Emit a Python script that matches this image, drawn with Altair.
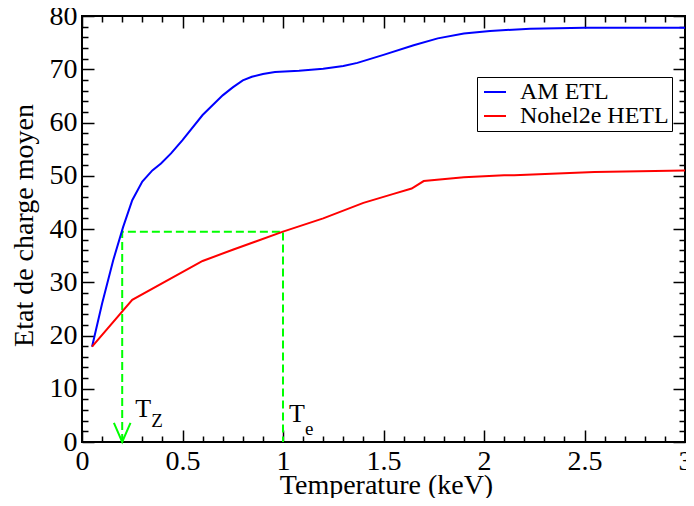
import altair as alt
import pandas as pd

# ---------------- data ----------------
series_names = ["AM ETL", "Nohel2e HETL"]
series_colors = ["#0000ff", "#ff0000"]

temp_am = [0.05, 0.1, 0.155, 0.204, 0.25, 0.3, 0.35, 0.393, 0.443, 0.5, 0.6, 0.7,
           0.75, 0.8, 0.845, 0.9, 0.96, 1.08, 1.2, 1.3, 1.37, 1.5, 1.65, 1.77,
           1.9, 2.03, 2.23, 2.5, 3.0]
charge_am = [17.9, 26.0, 34.1, 40.3, 45.4, 48.9, 51.0, 52.3, 54.2, 56.7, 61.4, 65.1,
             66.6, 67.9, 68.6, 69.1, 69.5, 69.7, 70.1, 70.6, 71.2, 72.7, 74.5, 75.8,
             76.7, 77.2, 77.6, 77.8, 77.8]

temp_noh = [0.05, 0.25, 0.6, 0.75, 1.0, 1.2, 1.4, 1.55, 1.64, 1.70, 1.9, 2.1, 2.15, 2.55, 3.0]
charge_noh = [17.9, 26.7, 34.0, 36.1, 39.5, 42.0, 44.9, 46.6, 47.6, 49.0, 49.7, 50.1, 50.1, 50.7, 51.0]

T_Z = 0.2
T_E = 1.0
charge_ref = 39.5

x_major = [0, 0.5, 1, 1.5, 2, 2.5, 3]
x_minor = [round(i * 0.1, 1) for i in range(31) if i % 5]
y_major = [0, 10, 20, 30, 40, 50, 60, 70, 80]
y_minor = [i for i in range(0, 81, 2) if i % 10]

# ---------------- layout ----------------
W, H = 603, 426
FONT = "Liberation Serif"

df = pd.DataFrame({
    "T": temp_am + temp_noh,
    "Z": charge_am + charge_noh,
    "s": [series_names[0]] * len(temp_am) + [series_names[1]] * len(temp_noh),
})

xs = alt.Scale(domain=[0, 3], nice=False, zero=False)
ys = alt.Scale(domain=[0, 80], nice=False, zero=False)

lines = alt.Chart(df).mark_line(strokeWidth=2).encode(
    x=alt.X("T:Q", scale=xs, axis=alt.Axis(
        orient="bottom", values=x_major, format="~g", ticks=False, tickSize=0,
        domain=False, grid=False, labelFont=FONT, labelFontSize=28, labelColor="black",
        labelPadding=5, labelFlush=False, labelOverlap=False,
        title="Temperature (keV)", titleFont=FONT, titleFontSize=28,
        titleFontWeight="normal", titleColor="black", titleX=304, titleY=51,
        titleBaseline="alphabetic", titleAlign="center")),
    y=alt.Y("Z:Q", scale=ys, axis=alt.Axis(
        orient="left", values=y_major, ticks=False, tickSize=0, domain=False, grid=False,
        labelFont=FONT, labelFontSize=28, labelColor="black", labelPadding=5,
        labelFlush=False, labelOverlap=False,
        title="Etat de charge moyen", titleFont=FONT, titleFontSize=28,
        titleFontWeight="normal", titleColor="black", titleX=-50, titleY=209,
        titleAngle=270, titleBaseline="alphabetic", titleAlign="center")),
    color=alt.Color("s:N", scale=alt.Scale(domain=series_names, range=series_colors),
                    legend=alt.Legend(
                        title=None, orient="none", legendX=395, legendY=61,
                        direction="vertical", symbolType="stroke", symbolSize=484,
                        symbolStrokeWidth=2, labelFont=FONT, labelFontSize=24,
                        labelColor="black", labelOffset=13, labelLimit=400,
                        padding=3, symbolOffset=3, rowPadding=0,
                        strokeColor="black", fillColor="white", cornerRadius=0)),
)


def tick_axes(x_orient, y_orient, size, xv, yv):
    common = dict(labels=False, domain=False, grid=False, ticks=True, tickSize=size,
                  tickWidth=1.5, tickColor="black", title=None)
    return alt.Chart(df).mark_point(opacity=0).encode(
        x=alt.X("T:Q", scale=xs, axis=alt.Axis(orient=x_orient, offset=-H, values=xv, **common)),
        y=alt.Y("Z:Q", scale=ys, axis=alt.Axis(orient=y_orient, offset=-W, values=yv, **common)),
    )


ticks = [
    tick_axes("top", "right", 12, x_major, y_major),
    tick_axes("top", "right", 6, x_minor, y_minor),
    tick_axes("bottom", "left", 12, x_major, y_major),
    tick_axes("bottom", "left", 6, x_minor, y_minor),
]

guide = pd.DataFrame({"T": [T_Z, T_Z, T_E, T_E],
                      "Z": [0, charge_ref, charge_ref, 0],
                      "k": [0, 1, 2, 3]})
dash = alt.Chart(guide).mark_line(color="#00ff00", strokeWidth=2, strokeDash=[8, 4]).encode(
    x=alt.X("T:Q", scale=xs, axis=None),
    y=alt.Y("Z:Q", scale=ys, axis=None),
    order="k:O",
)

arrow = alt.Chart(pd.DataFrame({"T": [T_Z], "Z": [0]})).mark_point(
    shape="M-1,-2.3L0,0L1,-2.3", size=276, filled=False, color="#00ff00",
    strokeWidth=2, opacity=1).encode(
    x=alt.X("T:Q", scale=xs, axis=None),
    y=alt.Y("Z:Q", scale=ys, axis=None),
)


def label(xval, text, size, dx, dy):
    return alt.Chart(pd.DataFrame({"T": [xval], "Z": [0], "t": [text]})).mark_text(
        font=FONT, fontSize=size, align="left", baseline="alphabetic",
        dx=dx, dy=dy, color="black").encode(
        x=alt.X("T:Q", scale=xs, axis=None),
        y=alt.Y("Z:Q", scale=ys, axis=None),
        text="t:N",
    )


labels = [
    label(T_Z, "T", 26, 13, -24.7),
    label(T_Z, "Z", 19, 29, -15),
    label(T_E, "T", 26, 6, -20),
    label(T_E, "e", 19, 22, -6.7),
]

chart = alt.layer(*ticks, dash, lines, arrow, *labels).resolve_axis(
    x="independent", y="independent"
).properties(
    width=W, height=H,
    autosize=alt.AutoSizeParams(type="none"),
    padding={"left": 74, "top": 8, "right": 1, "bottom": 56},
    background="white",
).configure_view(stroke="black", strokeWidth=2)

chart.save("out.html", embed_options={"renderer": "svg", "actions": False})
